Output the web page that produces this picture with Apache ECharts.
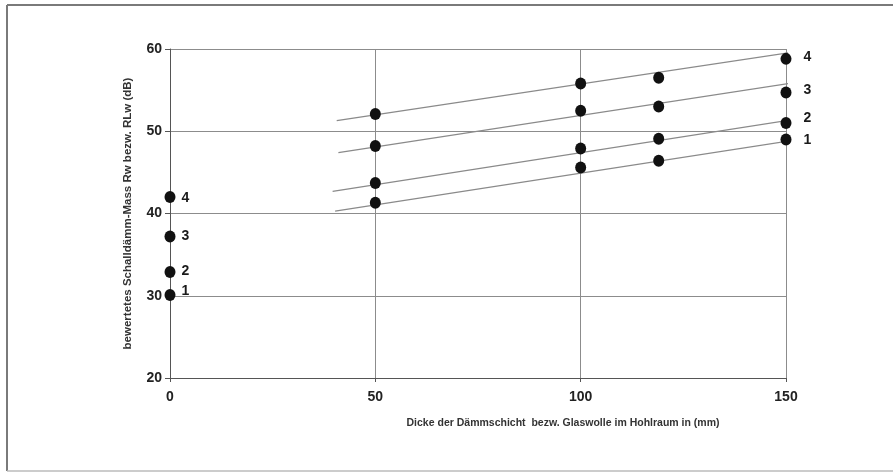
<!DOCTYPE html>
<html>
<head>
<meta charset="utf-8">
<script src="https://cdn.jsdelivr.net/npm/echarts@6/dist/echarts.min.js"></script>
<style>html,body{margin:0;padding:0;background:#fff}#c{width:893px;height:473px}</style>
</head>
<body>
<div id="c"></div>
<script>
// Data
const thickness = [0, 50, 100, 119, 150];
const curveNames = ['1', '2', '3', '4'];
const values1 = [30.1, 41.3, 45.6, 46.4, 49.0];
const values2 = [32.9, 43.7, 47.9, 49.1, 51.0];
const values3 = [37.2, 48.2, 52.5, 53.0, 54.7];
const values4 = [42.0, 52.1, 55.8, 56.5, 58.8];
// fitted straight lines: [x, y] start and end
const fit1 = [[40.2, 40.3], [151.8, 48.9]];
const fit2 = [[39.6, 42.7], [151.4, 51.4]];
const fit3 = [[41.0, 47.4], [153.2, 56.0]];
const fit4 = [[40.6, 51.3], [152.7, 59.7]];
const xTicks = [0, 50, 100, 150];
const yTicks = [20, 30, 40, 50, 60];

const allValues = [values1, values2, values3, values4];
const allFits = [fit1, fit2, fit3, fit4];
const leftOffsets = [-4, -1, 0, 1];
const rightOffsets = [1, -5, -2, -2];

const font = '"Liberation Sans", Arial, sans-serif';
const labelStyle = {color: '#1a1a1a', fontFamily: font, fontSize: 14, fontWeight: 'bold'};
const series = [];
allFits.forEach((f, i) => {
  series.push({
    type: 'line', data: f, showSymbol: false, clip: false, silent: true,
    lineStyle: {color: '#8a8a8a', width: 1.2}, z: 2
  });
});
allValues.forEach((vals, i) => {
  series.push({
    type: 'scatter', name: curveNames[i], clip: false, z: 5,
    symbolSize: [11, 12],
    itemStyle: {color: '#111111', opacity: 1},
    data: vals.map((v, j) => {
      const d = {value: [thickness[j], v]};
      if (j === 0) {
        d.label = Object.assign({show: true, position: 'right', distance: 6, offset: [0, leftOffsets[i]], formatter: curveNames[i]}, labelStyle);
      } else if (j === vals.length - 1) {
        d.label = Object.assign({show: true, position: 'right', distance: 12, offset: [0, rightOffsets[i]], formatter: curveNames[i]}, labelStyle);
      }
      return d;
    }),
    label: labelStyle
  });
});

const chart = echarts.init(document.getElementById('c'));
chart.setOption({
  animation: false,
  backgroundColor: '#fff',
  grid: {left: 170, right: 107, top: 49, bottom: 95},
  xAxis: {
    type: 'value', min: xTicks[0], max: xTicks[xTicks.length - 1], interval: 50,
    name: 'Dicke der Dämmschicht  bezw. Glaswolle im Hohlraum in (mm)',
    nameLocation: 'middle', nameGap: 40,
    nameTextStyle: {fontFamily: font, fontSize: 10.5, fontWeight: 'bold', color: '#333', padding: [0, 0, 0, 170]},
    axisLine: {lineStyle: {color: '#555', width: 1}},
    axisTick: {show: true, length: 4, lineStyle: {color: '#555'}},
    axisLabel: {fontFamily: font, fontSize: 14, fontWeight: 'bold', color: '#222', margin: 12},
    splitLine: {show: true, lineStyle: {color: '#8c8c8c', width: 1}}
  },
  yAxis: {
    type: 'value', min: yTicks[0], max: yTicks[yTicks.length - 1], interval: 10,
    name: 'bewertetes Schalldämm-Mass Rw bezw. RLw (dB)',
    nameLocation: 'middle', nameGap: 36, nameRotate: 90,
    nameTextStyle: {fontFamily: font, fontSize: 11.5, fontWeight: 'bold', color: '#333'},
    axisLine: {show: true, lineStyle: {color: '#555', width: 1}},
    axisTick: {show: true, length: 5, lineStyle: {color: '#555'}},
    axisLabel: {fontFamily: font, fontSize: 14, fontWeight: 'bold', color: '#222', margin: 8},
    splitLine: {show: true, lineStyle: {color: '#8c8c8c', width: 1}}
  },
  graphic: [
    {type: 'line', shape: {x1: 7, y1: 5, x2: 893, y2: 5}, style: {stroke: '#7a7a7a', lineWidth: 2}},
    {type: 'line', shape: {x1: 7, y1: 5, x2: 7, y2: 471}, style: {stroke: '#7a7a7a', lineWidth: 2}},
    {type: 'line', shape: {x1: 7, y1: 471, x2: 893, y2: 471}, style: {stroke: '#bbbbbb', lineWidth: 1.5}}
  ],
  series: series
});
</script>
</body>
</html>
